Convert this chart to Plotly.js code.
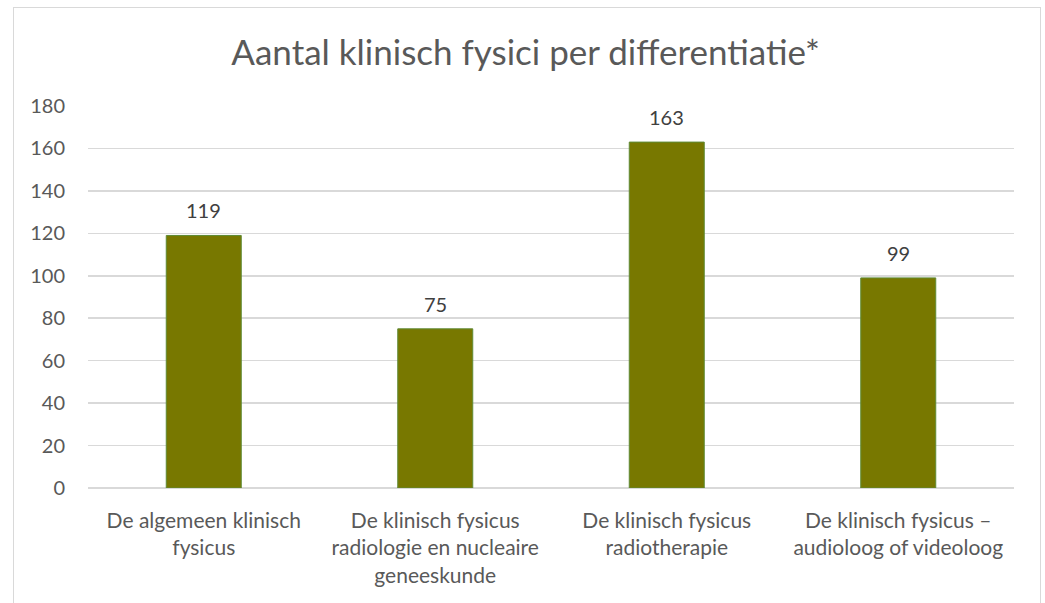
<!DOCTYPE html>
<html><head><meta charset="utf-8">
<script src="https://cdn.plot.ly/plotly-3.0.1.min.js"></script>
<style>
html,body{margin:0;padding:0;background:#fff;overflow:hidden;width:1045px;height:603px;}
#chart{width:1045px;height:603px;}
#frame{position:absolute;left:13px;top:7px;width:1026px;height:620px;border:1.5px solid #d9d9d9;pointer-events:none;}
</style></head>
<body>
<div id="chart"></div>
<div id="frame"></div>
<script>
const categories = [
  "De algemeen klinisch<br>fysicus",
  "De klinisch fysicus<br>radiologie en nucleaire<br>geneeskunde",
  "De klinisch fysicus<br>radiotherapie",
  "De klinisch fysicus –<br>audioloog of videoloog"
];
const values = [119, 75, 163, 99];
const yTicks = [0, 20, 40, 60, 80, 100, 120, 140, 160, 180];

const font = "Lato, 'Open Sans', sans-serif";
const trace = {
  type: 'bar',
  x: categories,
  y: values,
  marker: {color: '#787800', line: {color: '#5f8a35', width: 1}},
  hoverinfo: 'none'
};
const annotations = categories.map((c, i) => ({
  x: c, y: values[i], xref: 'x', yref: 'y',
  text: String(values[i]), showarrow: false,
  yanchor: 'bottom', yshift: 11,
  font: {family: font, size: 20, color: '#404040'}
}));
const layout = {
  width: 1045, height: 603,
  margin: {l: 88, r: 31, t: 106, b: 115},
  paper_bgcolor: '#ffffff', plot_bgcolor: '#ffffff',
  title: {text: 'Aantal klinisch fysici per differentiatie*', x: 0.503, xref: 'container', xanchor: 'center',
          y: 0.912, yanchor: 'middle', yref: 'container',
          font: {family: font, size: 35, color: '#595959'}},
  bargap: 0.676,
  showlegend: false,
  xaxis: {
    type: 'category', showgrid: false, zeroline: false, showline: false, ticks: '',
    ticklabelstandoff: 18,
    tickfont: {family: font, size: 21, color: '#595959'}
  },
  yaxis: {
    range: [0, 180], tickvals: yTicks, ticktext: yTicks.map(String),
    showgrid: true, gridcolor: '#d9d9d9', gridwidth: 1.5,
    zeroline: true, zerolinecolor: '#d9d9d9', zerolinewidth: 1.5,
    showline: false, ticks: '', ticklabelstandoff: 22,
    tickfont: {family: font, size: 20, color: '#595959'}
  },
  annotations: annotations
};
Plotly.newPlot('chart', [trace], layout, {displayModeBar: false, staticPlot: true});
</script>
</body></html>
